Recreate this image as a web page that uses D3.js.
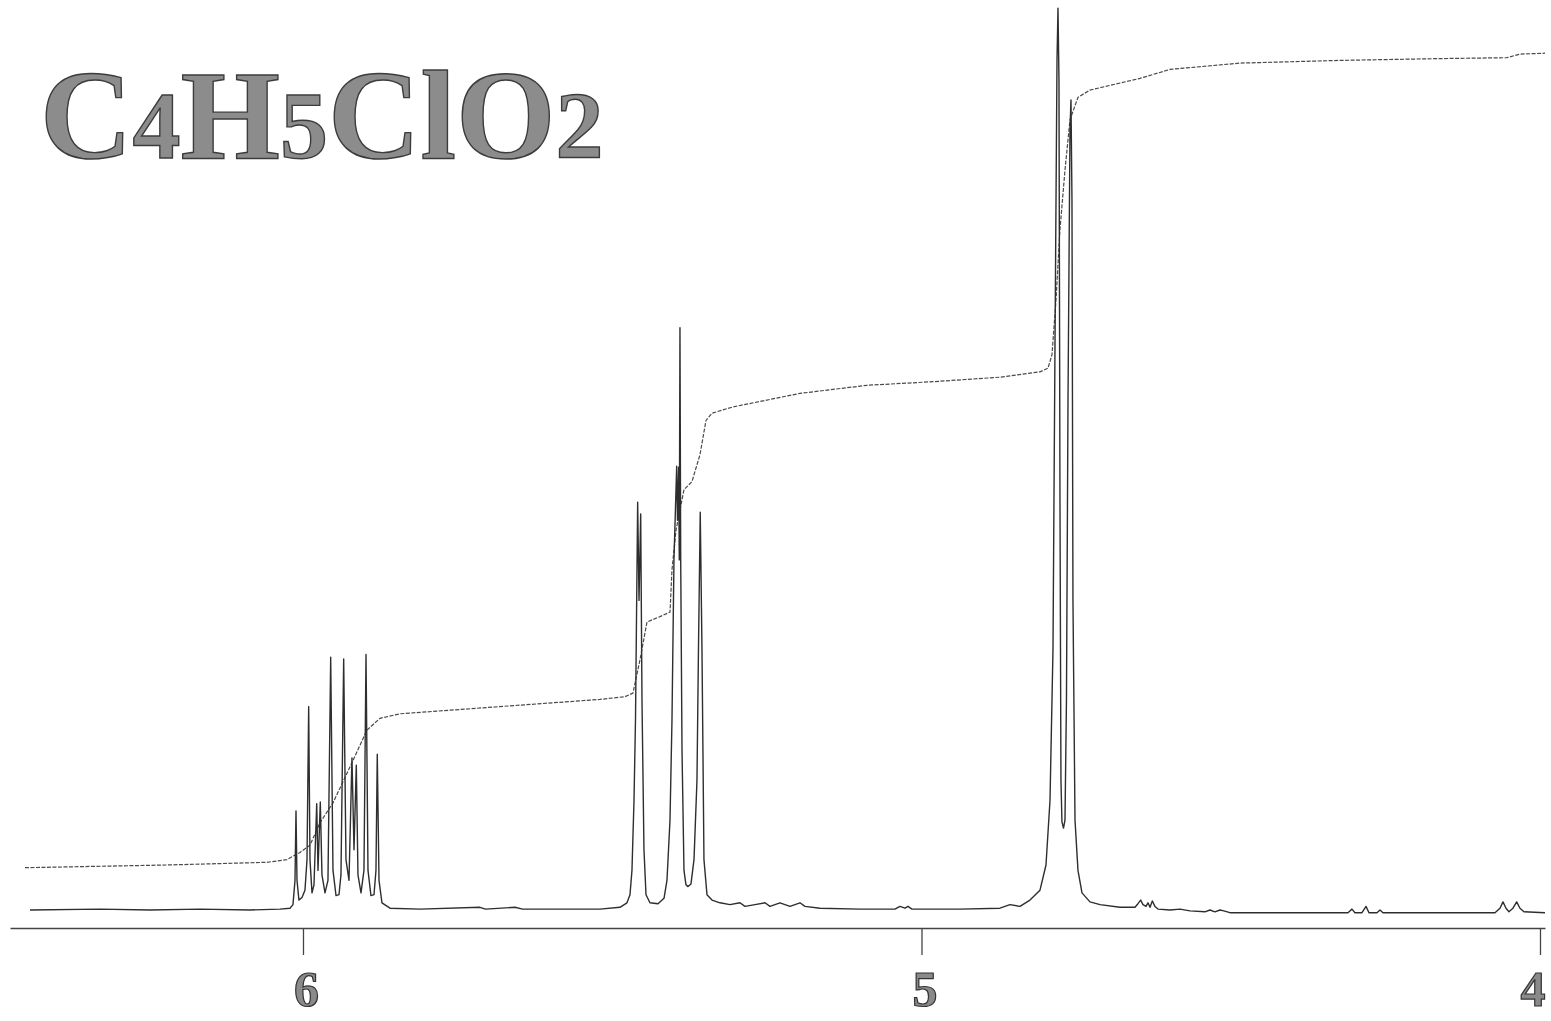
<!DOCTYPE html>
<html>
<head>
<meta charset="utf-8">
<script src="https://cdn.jsdelivr.net/npm/d3@7"></script>
<style>
	html,
	body {
		margin: 0;
		background: #fff;
	}
	svg {
		display: block;
	}
</style>
</head>
<body>
<script>
// chemical shift ticks (ppm)
const ticks = [6, 5, 4]
const formula = [
	{text: 'C', digit: false},
	{text: '4', digit: true},
	{text: 'H', digit: false},
	{text: '5', digit: true},
	{text: 'Cl', digit: false},
	{text: 'O', digit: false},
	{text: '2', digit: true},
]

// spectrum trace, [ppm, intensity]
const leftBaseline = [
	[6.4414, 0], [6.3282, 0.1], [6.2474, 0], [6.1665, 0.1], [6.0857, 0], [6.0372, 0.1], [6.021, 0.2],
]
const multiplet = [
	[6.0162, 0.6], [6.0129, 3.3], [6.0113, 11.0], [6.0097, 3.3], [6.0065, 1.1], [6.0016, 1.4], [5.9968, 2.2],
	[5.9935, 5.6], [5.9908, 22.6], [5.9887, 5.6], [5.9854, 1.9], [5.9822, 2.8], [5.9778, 11.8], [5.9757, 4.4],
	[5.972, 12.0], [5.9693, 3.9], [5.9644, 1.9], [5.9596, 3.3], [5.9552, 28.1], [5.9515, 4.4], [5.9466, 1.6],
	[5.9418, 1.7], [5.9386, 3.9], [5.9342, 27.9], [5.9305, 5.6], [5.9256, 3.3], [5.9208, 16.9], [5.9175, 6.7],
	[5.9138, 16.1], [5.9111, 3.9], [5.9062, 1.9], [5.9014, 4.4], [5.8981, 28.4], [5.8949, 4.4], [5.8901, 1.6],
	[5.8852, 1.7], [5.882, 4.4], [5.8799, 17.3], [5.8771, 3.3], [5.8723, 0.8], [5.8593, 0.2], [5.8108, 0.1],
]
const middleBaseline = [
	[5.7138, 0.3], [5.705, 0.1], [5.6572, 0.3], [5.645, 0.1], [5.5198, 0.1], [5.4875, 0.3],
]
const vinylGroup = [
	[5.4762, 0.8], [5.4713, 1.7], [5.4681, 4.4], [5.4648, 12.2], [5.4624, 21.1], [5.4589, 45.3], [5.4567, 34.4],
	[5.454, 44.0], [5.4519, 23.3], [5.4487, 6.7], [5.4454, 1.7], [5.439, 0.8], [5.426, 0.7], [5.4163, 1.3],
	[5.4115, 3.3], [5.4066, 10.0], [5.4034, 21.1], [5.4002, 38.9], [5.3958, 49.3], [5.3945, 43.3], [5.3926, 49.2],
	[5.3916, 38.9], [5.3905, 64.7], [5.3893, 38.9], [5.3872, 17.8], [5.384, 4.4], [5.3808, 2.8], [5.3775, 2.6],
	[5.3727, 2.9], [5.3678, 5.6], [5.363, 14.4], [5.3606, 28.9], [5.3577, 44.2], [5.3549, 28.9], [5.3517, 5.6],
	[5.3468, 1.7], [5.3387, 1.1], [5.3258, 0.8],
]
const noiseBand = [
	[5.3096, 0.6], [5.2935, 0.8], [5.2854, 0.4], [5.2692, 0.6], [5.253, 0.8], [5.245, 0.4], [5.2288, 0.8],
	[5.2207, 0.6], [5.2126, 0.4], [5.1965, 0.8], [5.1884, 0.4], [5.1641, 0.2], [5.0994, 0.1], [5.0429, 0.1],
	[5.0348, 0.4], [5.0267, 0.2], [5.0218, 0.4], [5.0154, 0.1], [4.9378, 0.1], [4.8731, 0.2], [4.8569, 0.6],
	[4.8408, 0.4], [4.8246, 1.1],
]
const bigDoublet = [
	[4.8084, 2.2], [4.7987, 5.0], [4.7922, 12.2], [4.7874, 28.9], [4.7842, 62.2], [4.7809, 94.4], [4.7793, 100.2],
	[4.7777, 92.2], [4.7761, 45.6], [4.7745, 14.4], [4.7729, 9.8], [4.7704, 9.1], [4.768, 10.0], [4.7656, 23.3],
	[4.7631, 56.7], [4.7599, 86.7], [4.7583, 90.0], [4.7567, 78.9], [4.7551, 34.4], [4.7518, 10.0], [4.747, 4.4],
	[4.7405, 1.9], [4.7276, 0.9], [4.7114, 0.6], [4.6791, 0.3],
]
const rightTail = [
	[4.6548, 0.3], [4.65, 0.7], [4.6456, 1.1], [4.6419, 0.6], [4.637, 0.4], [4.6338, 0.8], [4.6305, 0.3],
	[4.6268, 1.0], [4.6225, 0.4], [4.6176, 0.1], [4.5982, 0], [4.582, 0.1], [4.5659, -0.1], [4.5417, -0.2],
	[4.5336, 0], [4.5255, -0.2], [4.5175, 0], [4.5111, -0.1], [4.5014, -0.3], [4.388, -0.3], [4.3104, -0.3],
	[4.304, 0.1], [4.2992, -0.3], [4.2878, -0.3], [4.2813, 0.4], [4.2765, -0.3], [4.2636, -0.3], [4.2587, 0],
	[4.2539, -0.3], [4.1455, -0.3], [4.0728, -0.3], [4.0647, 0.2], [4.0598, 0.9], [4.055, 0.2], [4.0502, -0.2],
	[4.0437, 0.2], [4.0377, 0.9], [4.0324, 0.2], [4.0259, -0.2], [3.9919, -0.3],
]

// integral trace, [ppm, value]
const integral = [
	[6.4495, 4.7], [6.2199, 5.0], [6.0582, 5.3], [6.0259, 5.6], [6.0049, 6.4], [5.9887, 7.2], [5.9725, 9.7],
	[5.9515, 11.9], [5.924, 15.9], [5.8965, 20.0], [5.8755, 21.3], [5.8432, 21.8], [5.6815, 22.6], [5.5198, 23.4],
	[5.4794, 23.7], [5.4665, 24.1], [5.4551, 27.8], [5.4438, 32.0], [5.4228, 32.6], [5.4066, 33.1], [5.4034, 37.8],
	[5.3969, 42.2], [5.384, 46.7], [5.3711, 47.6], [5.3581, 50.6], [5.3484, 54.4], [5.3387, 55.2], [5.3047, 55.9],
	[5.1965, 57.4], [5.0881, 58.3], [4.9814, 58.7], [4.8731, 59.2], [4.8084, 59.8], [4.7955, 60.2], [4.789, 61.7],
	[4.7825, 67.8], [4.7761, 75.6], [4.768, 82.2], [4.7599, 87.8], [4.747, 90.3], [4.7276, 91.1], [4.6468, 92.4],
	[4.5982, 93.4], [4.485, 94.1], [4.3233, 94.4], [4.1617, 94.6], [4.0534, 94.7], [4.0324, 95.1], [3.9919, 95.2],
]

const spectrum = [...leftBaseline, ...multiplet, ...middleBaseline, ...vinylGroup, ...noiseBand, ...bigDoublet, ...rightTail]

const width = 1551
const height = 1021

const svg = d3.select('body').append('svg').attr('width', width).attr('height', height)

// ppm axis runs right to left
const x = d3.scaleLinear().domain([6.4737, 3.9919]).range([10, 1545])
const y = d3.scaleLinear().domain([0, 100]).range([910, 10])

const line = d3
	.line()
	.x(d => x(d[0]))
	.y(d => y(d[1]))

svg
	.append('path')
	.datum(integral)
	.attr('fill', 'none')
	.attr('stroke', '#4a4a4a')
	.attr('stroke-width', 1.2)
	.attr('stroke-dasharray', '4,1.5')
	.attr('d', line)

svg
	.append('path')
	.datum(spectrum)
	.attr('fill', 'none')
	.attr('stroke', '#2e2e2e')
	.attr('stroke-width', 1.4)
	.attr('stroke-linejoin', 'round')
	.attr('d', line)

// axis
const axis = svg
	.append('g')
	.attr('transform', 'translate(0,928)')
	.call(d3.axisBottom(x).tickValues(ticks).tickSize(27).tickSizeOuter(0).tickFormat(d3.format('d')))

axis.select('.domain').attr('stroke', '#444').attr('stroke-width', 1.6)
axis.selectAll('.tick line').attr('stroke', '#444').attr('stroke-width', 1.3)
axis
	.selectAll('.tick text')
	.attr('y', 78)
	.attr('dy', 0)
	.attr('dx', d => (d === 4 ? 0 : 3))
	.attr('text-anchor', d => (d === 4 ? 'end' : 'middle'))
	.attr('transform', d => (d === 4 ? 'translate(5,0)' : null))
	.attr('font-family', '"Liberation Serif", "DejaVu Serif", serif')
	.attr('font-weight', 'bold')
	.attr('font-size', 50)
	.attr('fill', '#8a8a8a')
	.attr('stroke', '#333')
	.attr('stroke-width', 1.2)

// molecular formula
const title = svg
	.append('text')
	.attr('x', 40)
	.attr('y', 158)
	.attr('font-family', '"Liberation Serif", "DejaVu Serif", serif')
	.attr('font-weight', 'bold')
	.attr('font-size', 128)
	.attr('fill', '#8c8c8c')
	.attr('stroke', '#3c3c3c')
	.attr('stroke-width', 1.4)

title
	.selectAll('tspan')
	.data(formula)
	.join('tspan')
	.attr('font-size', d => (d.digit ? 96 : 128))
	.text(d => d.text)
</script>
</body>
</html>
